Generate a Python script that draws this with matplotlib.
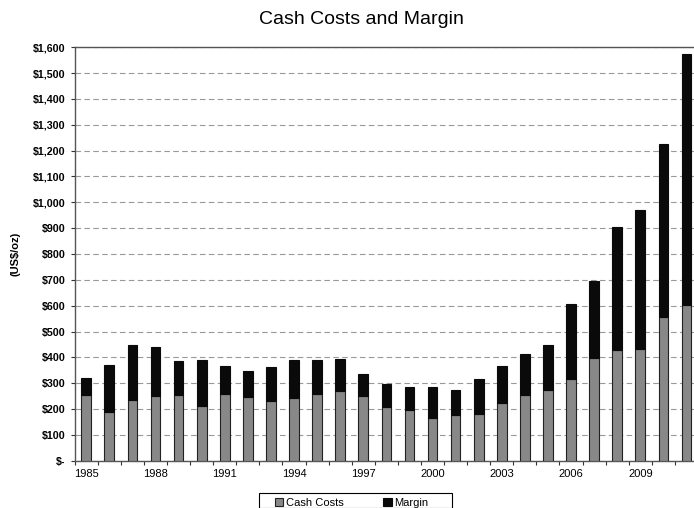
import matplotlib.pyplot as plt
import numpy as np
from matplotlib.patches import Rectangle
from matplotlib.ticker import FixedLocator, FuncFormatter

plt.rcParams['font.family'] = ['Liberation Sans', 'DejaVu Sans']

years = list(range(1985, 2012))
cash_costs = [254, 188, 236, 250, 253, 211, 260, 246, 232, 241, 258, 269, 251,
              207, 197, 166, 176, 181, 224, 254, 273, 317, 396, 427, 431, 558, 602]
totals = [321, 372, 449, 440, 385, 389, 367, 347, 364, 389, 389, 394, 335,
          298, 284, 284, 275, 315, 367, 413, 448, 607, 697, 905, 972, 1225, 1575]
margin = [t - c for t, c in zip(totals, cash_costs)]
year_labels = [1985, 1988, 1991, 1994, 1997, 2000, 2003, 2006, 2009]

W, H = 694, 508
fig = plt.figure(figsize=(W / 100, H / 100), dpi=100)
ax = fig.add_axes([74.7 / W, 47.3 / H, 623.3 / W, 413.4 / H])

x = np.arange(len(years))
w = 0.42
ax.bar(x, cash_costs, w, color='#888888', edgecolor='#222222', linewidth=0.8,
       label='Cash Costs', zorder=3)
ax.bar(x, margin, w, bottom=cash_costs, color='#0a0a0a', edgecolor='#0a0a0a',
       linewidth=0.8, label='Margin', zorder=3)

ax.set_xlim(-0.5, len(years) - 0.5)
ax.set_ylim(0, 1600)
ax.set_yticks(np.arange(0, 1601, 100))
ax.yaxis.set_major_formatter(FuncFormatter(lambda v, p: '$-' if v == 0 else f'${v:,.0f}'))
ax.yaxis.grid(True, linestyle=(0, (5, 3)), color='#999999', linewidth=0.8, zorder=0)

# boundary ticks between categories, labels centred under bars
ax.xaxis.set_major_locator(FixedLocator(np.arange(-0.5, len(years), 1)))
ax.xaxis.set_major_formatter(FuncFormatter(lambda v, p: ''))
ax.xaxis.set_minor_locator(FixedLocator([years.index(y) for y in year_labels]))
ax.set_xticklabels([str(y) for y in year_labels], minor=True)
ax.tick_params(axis='x', which='major', direction='out', length=3, width=0.8, color='#333333')
ax.tick_params(axis='x', which='minor', length=0, pad=6, labelsize=8)
ax.tick_params(axis='y', direction='out', length=3, width=0.8, color='#333333', labelsize=7.7)
for lbl in ax.get_yticklabels():
    lbl.set_fontweight('bold')

for s in ['left', 'bottom', 'top']:
    ax.spines[s].set_color('#555555')
    ax.spines[s].set_linewidth(1.0)
ax.spines['right'].set_visible(False)

ax.set_ylabel('(US$/oz)', fontsize=8, fontweight='bold', labelpad=9)
fig.text(361 / W, 1 - 20 / H, 'Cash Costs and Margin', ha='center', va='center', fontsize=14)

# legend: no own frame, box drawn as figure patch so it can run off the bottom
leg = fig.legend(loc='center left', bbox_to_anchor=(275 / W, 1 - 502.5 / H), ncol=2, fontsize=8,
                 frameon=False, handlelength=0.75, handleheight=0.75, handletextpad=0.2,
                 columnspacing=3.6, borderpad=0, borderaxespad=0)
fig.patches.append(Rectangle((259 / W, 0), 193 / W, 1 - 493 / H, transform=fig.transFigure,
                             fill=False, edgecolor='black', linewidth=0.8))

fig.savefig('out.png', dpi=100)
